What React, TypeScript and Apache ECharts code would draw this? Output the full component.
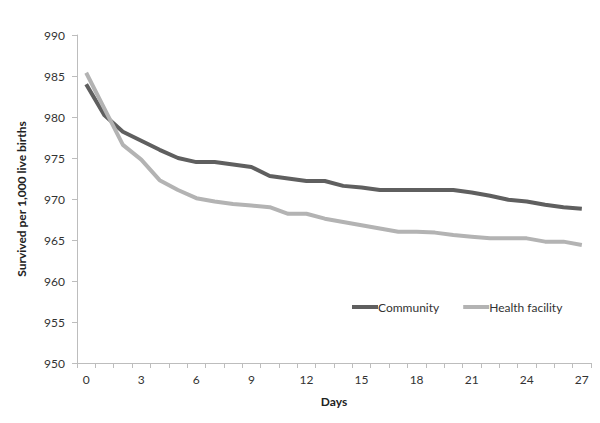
import React, { useEffect, useRef } from "react";
import * as echarts from "echarts";

const days = Array.from({ length: 28 }, (_, i) => String(i));
const community = [
  984.0, 980.2, 978.2, 977.1, 976.0, 975.0, 974.5, 974.5, 974.2, 973.9,
  972.8, 972.5, 972.2, 972.2, 971.6, 971.4, 971.1, 971.1, 971.1, 971.1,
  971.1, 970.8, 970.4, 969.9, 969.7, 969.3, 969.0, 968.8,
];
const healthFacility = [
  985.4, 981.0, 976.6, 974.8, 972.3, 971.1, 970.1, 969.7, 969.4, 969.2,
  969.0, 968.2, 968.2, 967.6, 967.2, 966.8, 966.4, 966.0, 966.0, 965.9,
  965.6, 965.4, 965.2, 965.2, 965.2, 964.8, 964.8, 964.4,
];

export default function App() {
  const ref = useRef<HTMLDivElement>(null);
  useEffect(() => {
    if (!ref.current) return;
    const chart = echarts.init(ref.current, null, { renderer: "svg" });
    const font = "Lato, 'Open Sans', sans-serif";
    chart.setOption({
      animation: false,
      backgroundColor: "#fff",
      textStyle: { fontFamily: font },
      grid: { left: 77, right: 9, top: 35, bottom: 60 },
      legend: {
        left: 347,
        top: 296,
        itemWidth: 26,
        itemHeight: 4,
        itemGap: 24,
        icon: "rect",
        textStyle: { fontFamily: font, fontSize: 12, color: "#333", padding: [0, 0, 0, -5] },
        data: ["Community", "Health facility"],
      },
      xAxis: {
        type: "category",
        data: days,
        boundaryGap: true,
        name: "Days",
        nameLocation: "middle",
        nameGap: 32,
        nameTextStyle: { fontFamily: font, fontSize: 12, fontWeight: "bold", color: "#222" },
        axisLine: { lineStyle: { color: "#bdbdbd", width: 1 } },
        axisTick: { show: true, interval: 0, length: 5, lineStyle: { color: "#bdbdbd" } },
        axisLabel: { interval: 2, fontSize: 12, color: "#333", margin: 10 },
      },
      yAxis: {
        type: "value",
        min: 950,
        max: 990,
        interval: 5,
        name: "Survived per 1,000 live births",
        nameLocation: "middle",
        nameGap: 50,
        nameTextStyle: { fontFamily: font, fontSize: 12, fontWeight: "bold", color: "#222" },
        splitLine: { show: false },
        axisLine: { show: true, lineStyle: { color: "#bdbdbd", width: 1 } },
        axisTick: { show: true, length: 5, lineStyle: { color: "#bdbdbd" } },
        axisLabel: { fontSize: 12, color: "#333", margin: 12 },
      },
      series: [
        {
          name: "Community",
          type: "line",
          data: community,
          showSymbol: false,
          symbol: "none",
          itemStyle: { color: "#5f5f5f" },
          lineStyle: { color: "#5f5f5f", width: 4 },
        },
        {
          name: "Health facility",
          type: "line",
          data: healthFacility,
          showSymbol: false,
          symbol: "none",
          itemStyle: { color: "#b3b3b3" },
          lineStyle: { color: "#b3b3b3", width: 4 },
        },
      ],
    });
    return () => chart.dispose();
  }, []);
  return <div ref={ref} style={{ width: 600, height: 423, position: "absolute", left: 0, top: 0 }} />;
}
